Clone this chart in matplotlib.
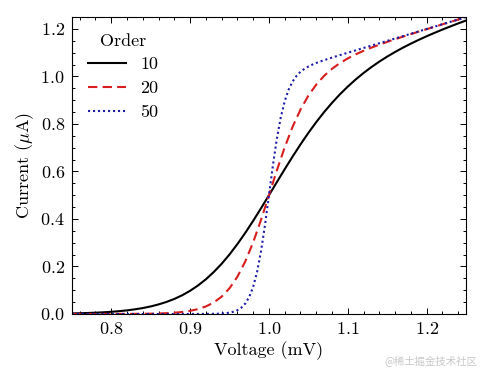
import matplotlib
matplotlib.use("Agg")
import matplotlib.pyplot as plt
from matplotlib.ticker import AutoMinorLocator

# values
volt_10 = [0.75, 0.76, 0.77, 0.78, 0.79, 0.80, 0.81, 0.82, 0.83, 0.84,
           0.85, 0.86, 0.87, 0.88, 0.89, 0.90, 0.91, 0.92, 0.93, 0.94,
           0.95, 0.96, 0.97, 0.98, 0.99, 1.00, 1.01, 1.02, 1.03, 1.04,
           1.05, 1.06, 1.07, 1.08, 1.09, 1.10, 1.11, 1.12, 1.13, 1.14,
           1.15, 1.16, 1.17, 1.18, 1.19, 1.20, 1.21, 1.22, 1.23, 1.24, 1.25]
curr_10 = [0.0024, 0.0031, 0.0041, 0.0054, 0.0070, 0.0091, 0.0118, 0.0152, 0.0195, 0.0249,
           0.0317, 0.0402, 0.0506, 0.0633, 0.0788, 0.0976, 0.1199, 0.1460, 0.1766, 0.2113,
           0.2507, 0.2943, 0.3417, 0.3923, 0.4455, 0.5000, 0.5551, 0.6097, 0.6629, 0.7140,
           0.7626, 0.8080, 0.8503, 0.8892, 0.9250, 0.9576, 0.9875, 1.0148, 1.0397, 1.0627,
           1.0838, 1.1033, 1.1215, 1.1384, 1.1544, 1.1695, 1.1838, 1.1976, 1.2107, 1.2234, 1.2358]

volt_20 = volt_10
curr_20 = [0.0000, 0.0000, 0.0000, 0.0000, 0.0001, 0.0001, 0.0002, 0.0003, 0.0005, 0.0008,
           0.0013, 0.0021, 0.0033, 0.0053, 0.0083, 0.0131, 0.0205, 0.0316, 0.0484, 0.0729,
           0.1082, 0.1570, 0.2214, 0.3021, 0.3968, 0.5000, 0.6042, 0.7020, 0.7883, 0.8606,
           0.9195, 0.9660, 1.0030, 1.0325, 1.0564, 1.0762, 1.0932, 1.1081, 1.1216, 1.1340,
           1.1457, 1.1569, 1.1678, 1.1784, 1.1889, 1.1992, 1.2094, 1.2196, 1.2297, 1.2398, 1.2498]

volt_50 = [0.75, 0.80, 0.85, 0.88, 0.90, 0.91, 0.92, 0.93, 0.935, 0.94,
           0.945, 0.95, 0.955, 0.96, 0.965, 0.97, 0.975, 0.98, 0.985, 0.99,
           0.995, 1.00, 1.005, 1.01, 1.015, 1.02, 1.025, 1.03, 1.035, 1.04,
           1.045, 1.05, 1.055, 1.06, 1.065, 1.07, 1.08, 1.09, 1.10, 1.15, 1.20, 1.25]
curr_50 = [0.0000, 0.0000, 0.0000, 0.0000, 0.0000, 0.0001, 0.0002, 0.0007, 0.0011, 0.0019,
           0.0033, 0.0056, 0.0095, 0.0159, 0.0266, 0.0440, 0.0718, 0.1148, 0.1781, 0.2653,
           0.3754, 0.5000, 0.6253, 0.7374, 0.8282, 0.8963, 0.9450, 0.9791, 1.0028, 1.0198,
           1.0323, 1.0421, 1.0500, 1.0569, 1.0630, 1.0688, 1.0795, 1.0900, 1.1000, 1.1500, 1.2000, 1.2500]

orders = ["10", "20", "50"]
colors = ["black", "#d81e1e", "#1c1caa"]
styles = ["-", (0, (4.5, 2.5)), (0, (1, 1.4))]

plt.rcParams["font.family"] = "serif"
plt.rcParams["font.serif"] = ["cmr10", "DejaVu Serif"]
plt.rcParams["mathtext.fontset"] = "cm"
plt.rcParams["axes.formatter.use_mathtext"] = True
plt.rcParams["axes.unicode_minus"] = False
plt.rcParams["font.size"] = 13

fig = plt.figure(figsize=(4.82, 3.72), dpi=100)
ax = fig.add_axes([0.149, 0.156, 0.818, 0.798])

data = [(volt_10, curr_10), (volt_20, curr_20), (volt_50, curr_50)]
for (xv, yv), lab, c, ls in zip(data, orders, colors, styles):
    ax.plot(xv, yv, color=c, linestyle=ls, linewidth=1.5, label=lab)

ax.set_xlim(0.75, 1.25)
ax.set_ylim(0, 1.25)
ax.set_xticks([0.8, 0.9, 1.0, 1.1, 1.2])
ax.set_yticks([0.0, 0.2, 0.4, 0.6, 0.8, 1.0, 1.2])
ax.xaxis.set_minor_locator(AutoMinorLocator(5))
ax.yaxis.set_minor_locator(AutoMinorLocator(4))
ax.tick_params(which="both", direction="in", top=True, right=True, width=0.7)
ax.tick_params(which="major", length=4.2, pad=5)
ax.tick_params(which="minor", length=2.1)
for s in ax.spines.values():
    s.set_linewidth(0.8)

ax.set_xlabel("Voltage (mV)", labelpad=3)
ax.set_ylabel(r"Current ($\mu$A)", labelpad=3)
ax.legend(title="Order", loc="upper left", frameon=False, fontsize=13, title_fontsize=13,
          handlelength=2.1, labelspacing=0.45, borderaxespad=0.5)

fig.text(0.99, 0.015, "@稀土掘金技术社区", ha="right", va="bottom", fontsize=7.5,
         color="#c8c8c8", family=["Noto Sans CJK SC", "DejaVu Sans"])

fig.savefig("out.png", dpi=100)
